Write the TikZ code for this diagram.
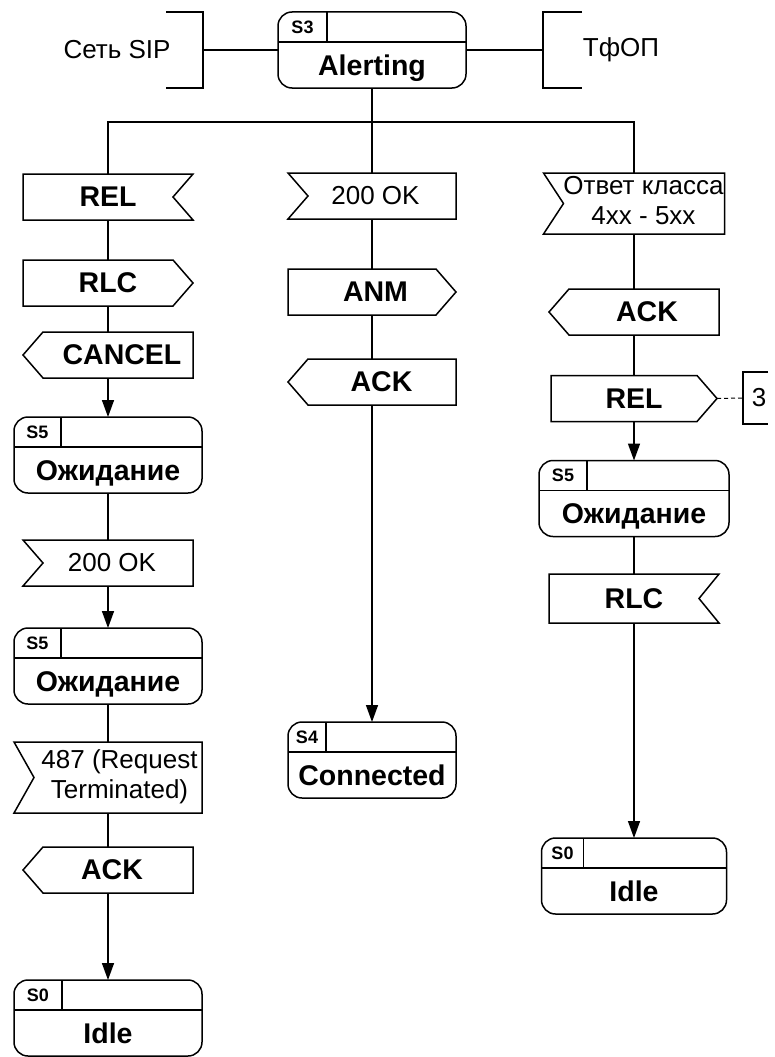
\documentclass[tikz,border=0pt]{standalone}
\usepackage{fontspec}
\setmainfont{Liberation Sans}
\usetikzlibrary{arrows.meta}

\begin{document}
\begin{tikzpicture}[x=1pt, y=-1pt, line width=1.5pt,
  font=\fontsize{26}{30}\selectfont,
  sdl/.style={draw, rounded corners=14pt, minimum width=188pt, inner sep=0pt, outer sep=0pt,
              text height=63pt, text depth=13pt, font=\fontsize{28.5}{30}\selectfont\bfseries},
  msg/.style={minimum width=170pt, minimum height=46pt, inner sep=0pt, outer sep=0pt},
  bmsg/.style={msg, font=\fontsize{28.5}{30}\selectfont\bfseries},
  code/.style={font=\fontsize{18}{20}\selectfont\bfseries, inner sep=0pt},
  flow/.style={-{Triangle[length=17pt,width=12pt]}},
]
\useasboundingbox (0,0) rectangle (774,1057);

% top: state and environments
\node[sdl] (alert) at (372,50) {Alerting};
\node (sip) at (117,50) {Сеть SIP};
\node (pstn) at (621,50) {ТфОП};
\coordinate (sipbr) at (203,50);
\coordinate (pstnbr) at (543,50);
\draw (166,12) -- (203,12) -- (203,88) -- (166,88);
\draw (582,12) -- (543,12) -- (543,88) -- (582,88);
\draw (sipbr) -- (alert.west);
\draw (alert.east) -- (pstnbr);

% left branch
\node[bmsg] (relL) at (108,197) {REL};
\node[bmsg] (rlcL) at (108,283) {RLC};
\node[bmsg] (cancelL) at (108,355) {\hspace*{28pt}CANCEL};
\node[sdl] (waitA) at (108,455) {Ожидание};
\node[msg] (okL) at (108,563) {\hspace*{8pt}200 OK};
\node[sdl] (waitB) at (108,666) {Ожидание};
\node[msg, minimum width=188pt, minimum height=71pt] (termL) at (108,777.5)
  {\hspace*{23pt}\begin{tabular}{@{}c@{}}487 (Request\\Terminated)\end{tabular}};
\node[bmsg] (ackL) at (108,870) {\hspace*{8pt}ACK};
\node[sdl] (idleL) at (108,1018) {Idle};

% middle branch
\node[msg, minimum width=168pt] (okM) at (372,196) {\hspace*{7pt}200 OK};
\node[bmsg, minimum width=168pt] (anmM) at (372,292) {\hspace*{7pt}ANM};
\node[bmsg, minimum width=168pt] (ackM) at (372,382) {\hspace*{19pt}ACK};
\node[sdl, minimum width=168pt] (connM) at (372,760) {Connected};

% right branch
\node[msg, minimum width=181pt, minimum height=61pt] (ansR) at (634,203.5)
  {\hspace*{19pt}\begin{tabular}{@{}c@{}}Ответ класса\\4xx - 5xx\end{tabular}};
\node[bmsg] (ackR) at (634,312) {\hspace*{26pt}ACK};
\node[bmsg, minimum width=166pt] (relR) at (634,398.5) {REL};
\node[sdl, minimum width=190pt] (waitR) at (634,498.5) {Ожидание};
\node[bmsg, minimum height=49pt] (rlcR) at (634,598.5) {RLC};
\node[sdl, minimum width=185pt] (idleR) at (634,876) {Idle};
\node (ref3) at (759,398) {3};
\coordinate (ref3br) at (743,398);
\draw (768,372) -- (743,372) -- (743,424) -- (768,424);

% input signals, notch on the left
\foreach \n in {okL, termL, okM, ansR}
  \draw (\n.north west) -- (\n.north east) -- (\n.south east) -- (\n.south west)
    -- ([xshift=20pt]\n.west) -- cycle;
% input signals, notch on the right
\foreach \n in {relL, rlcR}
  \draw (\n.north east) -- (\n.north west) -- (\n.south west) -- (\n.south east)
    -- ([xshift=-20pt]\n.east) -- cycle;
% output signals to the right
\foreach \n in {rlcL, anmM, relR}
  \draw (\n.north west) -- ([xshift=-20pt]\n.north east) -- (\n.east)
    -- ([xshift=-20pt]\n.south east) -- (\n.south west) -- cycle;
% output signals to the left
\foreach \n in {cancelL, ackL, ackM, ackR}
  \draw (\n.north east) -- ([xshift=20pt]\n.north west) -- (\n.west)
    -- ([xshift=20pt]\n.south west) -- (\n.south east) -- cycle;

% state headers
\foreach \n/\c/\w in {alert/S3/49, waitA/S5/47, waitB/S5/47, idleL/S0/48,
                      connM/S4/38, waitR/S5/48, idleR/S0/42} {
  \draw ([yshift=-30pt]\n.north west) -- ([yshift=-30pt]\n.north east);
  \draw ([xshift=\w pt]\n.north west) -- ([xshift=\w pt,yshift=-30pt]\n.north west);
  \node[code] (\n-code) at ([xshift=\w pt/2,yshift=-15pt]\n.north west) {\c};
}

% flow
\coordinate (bus) at (372,122);
\draw (alert.south) -- (okM.north);
\draw (relL.north) |- (bus) -| (ansR.north);

\draw (relL.south) -- (rlcL.north);
\draw (rlcL.south) -- (cancelL.north);
\draw[flow] (cancelL.south) -- (waitA.north);
\draw (waitA.south) -- (okL.north);
\draw[flow] (okL.south) -- (waitB.north);
\draw (waitB.south) -- (termL.north);
\draw (termL.south) -- (ackL.north);
\draw[flow] (ackL.south) -- (idleL.north);

\draw (okM.south) -- (anmM.north);
\draw (anmM.south) -- (ackM.north);
\draw[flow] (ackM.south) -- (connM.north);

\draw (ansR.south) -- (ackR.north);
\draw (ackR.south) -- (relR.north);
\draw[flow] (relR.south) -- (waitR.north);
\draw (waitR.south) -- (rlcR.north);
\draw[flow] (rlcR.south) -- (idleR.north);
\draw[dash pattern=on 4pt off 3pt, line width=1pt] (relR.east) -- (ref3br);
\end{tikzpicture}
\end{document}
